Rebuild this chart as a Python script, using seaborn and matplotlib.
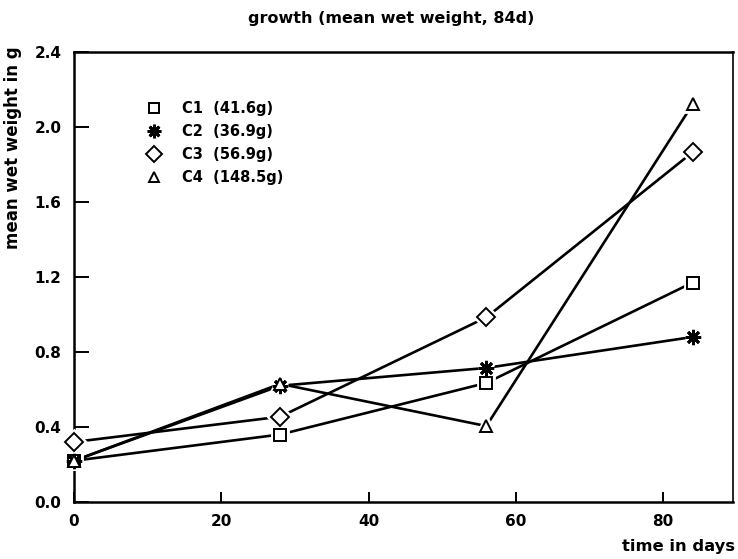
import matplotlib
matplotlib.use("Agg")
import matplotlib.pyplot as plt
from matplotlib.lines import Line2D
import seaborn as sns
import pandas as pd

# sampling days and mean wet weight (g) per group
days = [0, 28, 56, 84]
c1 = [0.22, 0.36, 0.635, 1.17]
c2 = [0.22, 0.62, 0.715, 0.88]
c3 = [0.32, 0.455, 0.985, 1.865]
c4 = [0.22, 0.63, 0.405, 2.12]
groups = ["C1  (41.6g)", "C2  (36.9g)", "C3  (56.9g)", "C4  (148.5g)"]
x_ticks = [0, 20, 40, 60, 80]
y_ticks = [0.0, 0.4, 0.8, 1.2, 1.6, 2.0, 2.4]

rows = []
for name, vals in zip(groups, [c1, c2, c3, c4]):
    for d, v in zip(days, vals):
        rows.append({"day": d, "weight": v, "group": name})
df = pd.DataFrame(rows)

sns.set_theme(style="white")
plt.rcParams["font.family"] = ["DejaVu Sans"]
plt.rcParams["font.weight"] = "bold"
plt.rcParams["text.color"] = "black"

marker_map = {groups[0]: "s", groups[1]: (8, 2, 0), groups[2]: "D", groups[3]: "^"}
size_map = {groups[0]: 8.5, groups[1]: 11, groups[2]: 9.5, groups[3]: 8.5}
mew_map = {groups[0]: 1.4, groups[1]: 2.0, groups[2]: 1.4, groups[3]: 1.4}

fig = plt.figure(figsize=(7.38, 5.59), dpi=100)
ax = fig.add_axes([74 / 738, 57 / 559, 659 / 738, 450 / 559])

# connecting lines
for name in groups:
    sub = df[df["group"] == name]
    sns.lineplot(data=sub, x="day", y="weight", color="black",
                 linewidth=1.9, ax=ax, zorder=2)

# white halo behind each marker, then the open marker itself
for name in groups:
    sub = df[df["group"] == name]
    for edge, extra, z in (("white", 3.5, 3), ("black", 0.0, 4)):
        sns.lineplot(data=sub, x="day", y="weight", color="black",
                     linestyle="", marker="o", markeredgecolor=edge,
                     markerfacecolor="white",
                     markeredgewidth=mew_map[name] + extra, ax=ax, zorder=z)
        line = ax.get_lines()[-1]
        line.set_marker(marker_map[name])
        line.set_markersize(size_map[name])
        line.set_markeredgecolor(edge)
        line.set_clip_on(False)

ax.set_xlim(0, 89.5)
ax.set_ylim(0, 2.4)
ax.set_xticks(x_ticks)
ax.set_yticks(y_ticks)
ax.set_xticklabels([str(t) for t in x_ticks], fontsize=11, fontweight="bold")
ax.set_yticklabels([f"{t:.1f}" for t in y_ticks], fontsize=11, fontweight="bold")
ax.tick_params(left=True, bottom=True, direction="in", width=1.4,
               colors="black", labelcolor="black")
ax.tick_params(axis="y", length=11, pad=9)
ax.tick_params(axis="x", length=7.5, pad=9)
ax.set_xlabel("")
ax.set_ylabel("")
for s in ax.spines.values():
    s.set_color("black")
    s.set_linewidth(1.8)
    s.set_zorder(1)
ax.spines["right"].set_linewidth(1.2)

handles = []
for name in groups:
    handles.append(Line2D([], [], linestyle="", marker=marker_map[name],
                          markersize=size_map[name] - 1.2, markeredgecolor="black",
                          markerfacecolor="white",
                          markeredgewidth=mew_map[name]))
leg = ax.legend(handles, groups, loc="upper left", bbox_to_anchor=(0.088, 0.92),
                frameon=False, handlelength=1.2, handletextpad=1.3,
                labelspacing=0.55, prop={"size": 10.5, "weight": "bold"})
for t in leg.get_texts():
    t.set_color("black")

fig.text(391 / 738, 1 - 18 / 559, "growth (mean wet weight, 84d)",
         ha="center", va="center", fontsize=11.5, fontweight="bold", color="black")
fig.text(735 / 738, 1 - 547 / 559, "time in days", ha="right", va="center",
         fontsize=11.8, fontweight="bold", color="black")
fig.text(13 / 738, 1 - 148 / 559, "mean wet weight in g", rotation=90,
         ha="center", va="center", fontsize=12, fontweight="bold", color="black")

fig.savefig("out.png", dpi=100)
